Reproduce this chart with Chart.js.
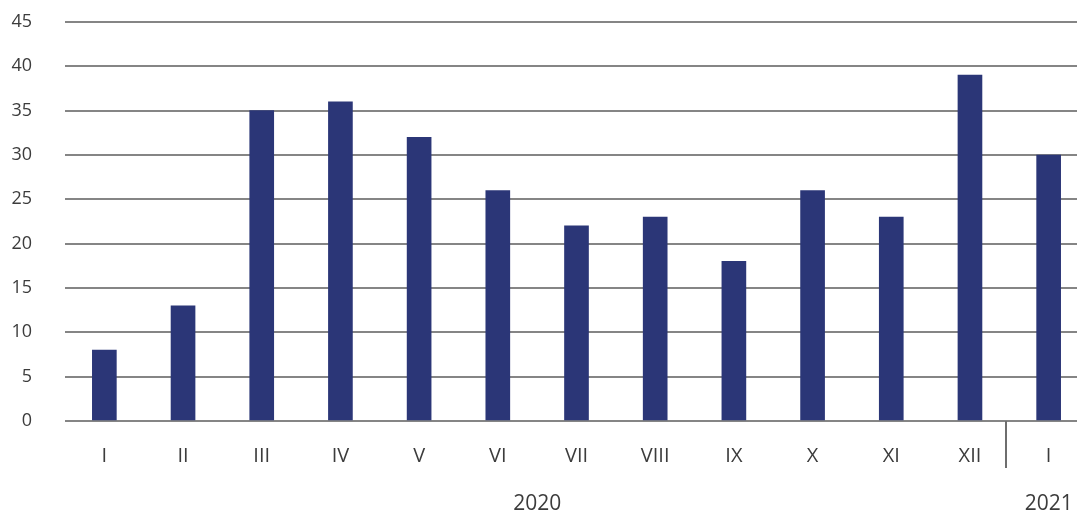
<!DOCTYPE html>
<html>
<head>
<meta charset="utf-8">
<script src="https://cdn.jsdelivr.net/npm/chart.js@4"></script>
<style>
  html, body { margin: 0; padding: 0; background: #fff; overflow: hidden; }
  #wrap { width: 1088px; height: 513px; position: relative; }
</style>
</head>
<body>
<div id="wrap"><canvas id="c"></canvas></div>
<script>
const categories = ["I", "II", "III", "IV", "V", "VI", "VII", "VIII", "IX", "X", "XI", "XII", "I"];
const values = [8, 13, 35, 36, 32, 26, 22, 23, 18, 26, 23, 39, 30];
const yearGroups = [
  { label: "2020", from: 0, to: 11 },
  { label: "2021", from: 12, to: 12 }
];
const yTicks = [0, 5, 10, 15, 20, 25, 30, 35, 40, 45];

const FONT = "'Open Sans', 'DejaVu Sans', sans-serif";
const TEXT = "#3c3c3c";

const yearPlugin = {
  id: "years",
  afterDraw(chart) {
    const ctx = chart.ctx;
    const x = chart.scales.x;
    const area = chart.chartArea;
    ctx.save();
    ctx.font = "21px " + FONT;
    ctx.fillStyle = TEXT;
    ctx.textAlign = "center";
    ctx.textBaseline = "middle";
    yearGroups.forEach(g => {
      const cx = (x.getPixelForValue(g.from) + x.getPixelForValue(g.to)) / 2;
      ctx.fillText(g.label, cx, area.bottom + 83);
    });
    for (let i = 0; i < yearGroups.length - 1; i++) {
      const a = x.getPixelForValue(yearGroups[i].to);
      const b = x.getPixelForValue(yearGroups[i + 1].from);
      const sx = Math.round((a + b) / 2) - 3;
      ctx.strokeStyle = "#6e6e6e";
      ctx.lineWidth = 2;
      ctx.beginPath();
      ctx.moveTo(sx, area.bottom);
      ctx.lineTo(sx, area.bottom + 47);
      ctx.stroke();
    }
    ctx.restore();
  }
};

new Chart(document.getElementById("c"), {
  type: "bar",
  data: {
    labels: categories,
    datasets: [{
      data: values,
      backgroundColor: "#2b3677",
      borderWidth: 0,
      barThickness: 24
    }]
  },
  options: {
    responsive: true,
    maintainAspectRatio: false,
    animation: false,
    layout: { padding: { top: 22, right: 0, left: 0, bottom: 0 } },
    plugins: { legend: { display: false }, tooltip: { enabled: false } },
    scales: {
      x: {
        grid: { display: false, drawTicks: false },
        border: { display: false },
        ticks: { font: { size: 20, family: FONT }, color: TEXT, padding: 23, maxRotation: 0, autoSkip: false },
        afterFit(s) { s.height = 92; s.paddingLeft = 0; s.paddingRight = 0; }
      },
      y: {
        min: 0, max: 45,
        afterBuildTicks(s) { s.ticks = yTicks.map(v => ({ value: v })); },
        grid: { color: "#858585", lineWidth: 2, drawTicks: false },
        border: { display: false },
        ticks: { font: { size: 18, family: FONT }, color: TEXT, padding: 33 },
        afterFit(s) { s.width = 65; s.paddingTop = 0; s.paddingBottom = 0; }
      }
    }
  },
  plugins: [yearPlugin]
});
</script>
</body>
</html>
